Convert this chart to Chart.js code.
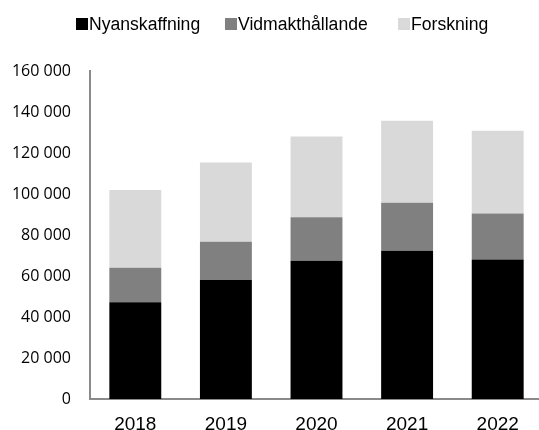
<!DOCTYPE html>
<html lang="sv">
<head>
<meta charset="utf-8">
<title>Nyanskaffning, vidmakthållande och forskning 2018–2022</title>
<script src="https://cdn.jsdelivr.net/npm/chart.js@4/dist/chart.umd.min.js"></script>
<style>
  html, body { margin: 0; padding: 0; background: #fff; }
  body { width: 539px; height: 430px; overflow: hidden; position: relative; }
  #wrap { position: absolute; left: 0; top: 0; width: 543px; height: 430px; }
  #legend {
    position: absolute; top: 14px; left: 0; width: 539px; height: 20px;
    font-family: "Liberation Sans", Arial, sans-serif; font-size: 17.6px;
    line-height: 20px; color: #000; z-index: 2;
  }
  #legend span.item { position: absolute; top: 0; white-space: nowrap; }
  #legend i { display: inline-block; width: 12px; height: 12px; margin-right: 1px; }
</style>
</head>
<body>
<div id="legend"></div>
<div id="wrap"><canvas id="chart"></canvas></div>
<script>
// Årtal och belopp per kategori
const years = ['2018', '2019', '2020', '2021', '2022'];
const nyanskaffning = [47200, 58000, 67400, 72300, 68000];
const vidmakthallande = [16800, 18700, 21200, 23400, 22500];
const forskning = [38000, 38700, 39400, 40000, 40300];

const seriesNames = ['Nyanskaffning', 'Vidmakthållande', 'Forskning'];
const seriesColors = ['#000000', '#808080', '#d9d9d9'];
const legendLeft = [76, 225, 398];

// y-axelns skala
const yMin = 0;
const yMax = 160000;
const yStep = 20000;

function formatTick(v) {
    return String(v).replace(/\B(?=(\d{3})+(?!\d))/g, ' ');
}

// Förklaring ovanför diagrammet
const legendEl = document.getElementById('legend');
seriesNames.forEach(function(name, i) {
    const item = document.createElement('span');
    item.className = 'item';
    item.style.left = legendLeft[i] + 'px';
    const box = document.createElement('i');
    box.style.background = seriesColors[i];
    item.appendChild(box);
    item.appendChild(document.createTextNode(name));
    legendEl.appendChild(item);
});

const axisColor = '#8a8a8a';

new Chart(document.getElementById('chart'), {
    type: 'bar',
    data: {
        labels: years,
        datasets: [
            { label: seriesNames[0], data: nyanskaffning, backgroundColor: seriesColors[0] },
            { label: seriesNames[1], data: vidmakthallande, backgroundColor: seriesColors[1] },
            { label: seriesNames[2], data: forskning, backgroundColor: seriesColors[2] }
        ]
    },
    options: {
        responsive: true,
        maintainAspectRatio: false,
        animation: false,
        layout: { padding: { top: 71, right: 0, bottom: 0, left: 0 } },
        datasets: {
            bar: { barPercentage: 0.573, categoryPercentage: 1 }
        },
        plugins: {
            legend: { display: false },
            tooltip: { enabled: false }
        },
        scales: {
            x: {
                stacked: true,
                grid: { display: false, drawTicks: false },
                border: { display: true, color: axisColor, width: 2 },
                ticks: {
                    color: '#000',
                    padding: 14,
                    font: { family: '"Liberation Sans", Arial, sans-serif', size: 19 }
                },
                afterFit: function(scale) { scale.height = 31; }
            },
            y: {
                stacked: true,
                min: yMin,
                max: yMax,
                grid: { display: false, drawTicks: false },
                border: { display: true, color: axisColor, width: 2 },
                ticks: {
                    stepSize: yStep,
                    color: '#000',
                    padding: 19,
                    font: { family: '"Open Sans", sans-serif', size: 16 },
                    callback: function(value) { return formatTick(value); }
                },
                afterFit: function(scale) { scale.width = 90; }
            }
        }
    }
});
</script>
</body>
</html>
